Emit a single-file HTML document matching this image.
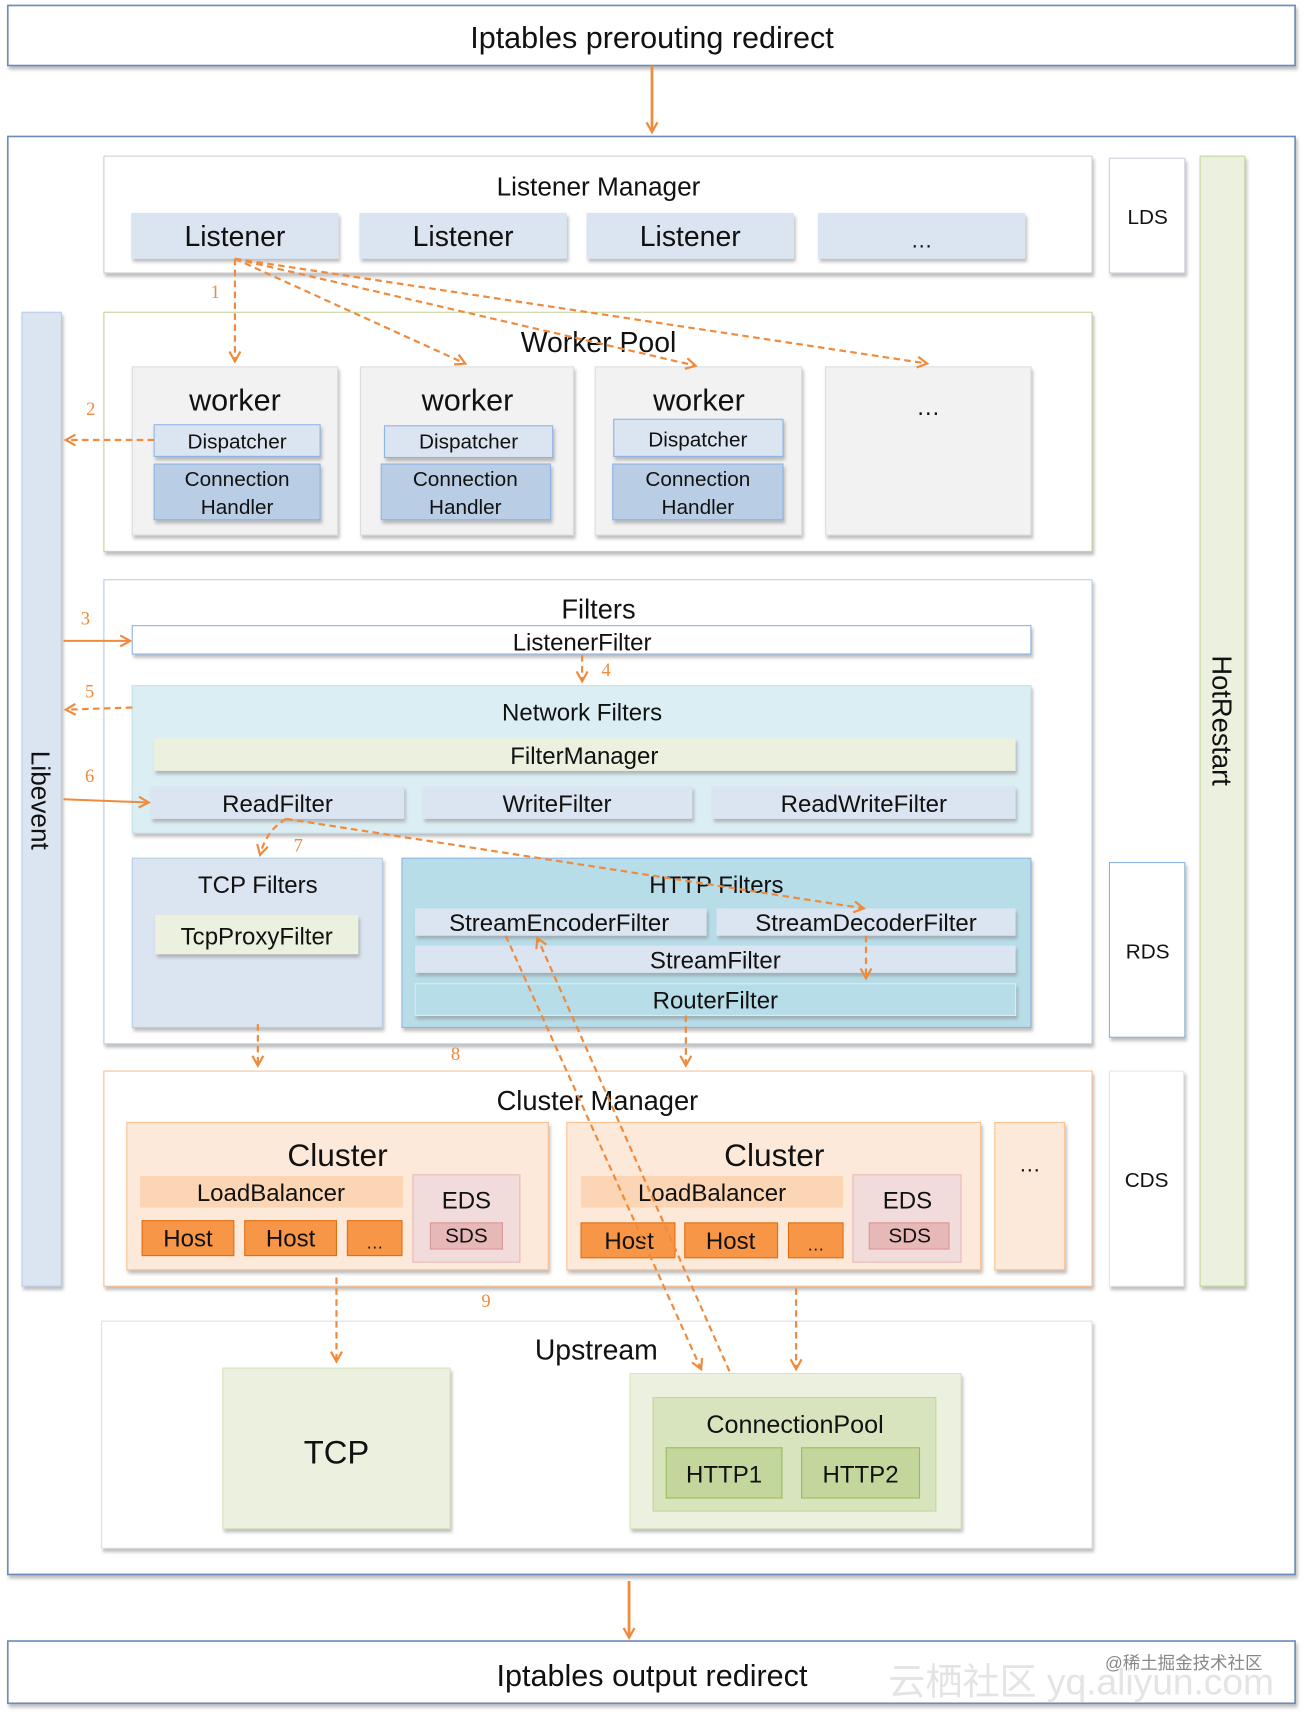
<!DOCTYPE html>
<html><head><meta charset="utf-8"><style>
html,body{margin:0;padding:0;background:#fff;}
svg text{font-family:"Liberation Sans","Noto Sans CJK SC",sans-serif;fill:#111;text-anchor:middle;dominant-baseline:central;}
.n{font-family:"Liberation Serif",serif !important;fill:#f08a3c !important;font-size:17px;}
</style></head><body>
<svg width="1304" height="1712" viewBox="0 0 1194 1568" xmlns="http://www.w3.org/2000/svg">
<defs>
<filter id="sh" x="-5%" y="-5%" width="110%" height="120%"><feDropShadow dx="1.5" dy="3" stdDeviation="1.5" flood-color="#888" flood-opacity="0.55"/></filter>
<marker id="ar" viewBox="0 0 12 12" refX="10" refY="6" markerWidth="12" markerHeight="12" markerUnits="userSpaceOnUse" orient="auto"><path d="M1,1 L10,6 L1,11" fill="none" stroke="#f08a3c" stroke-width="2"/></marker>
</defs>
<g filter="url(#sh)">
<rect x="7" y="5" width="1179" height="55" fill="#fff" stroke="#6b8cba" stroke-width="1.5"/>
<rect x="7" y="125" width="1179" height="1317" fill="#fff" stroke="#6b8cba" stroke-width="1.5"/>
<rect x="7" y="1503" width="1179" height="57" fill="#fff" stroke="#6b8cba" stroke-width="1.5"/>
</g>
<text x="597" y="35" font-size="28">Iptables  prerouting redirect</text>
<text x="597" y="1535" font-size="28">Iptables  output redirect</text>
<g filter="url(#sh)">
<rect x="95" y="143" width="905" height="107" fill="#fff" stroke="#d0d0d0"/>
<rect x="1016" y="145" width="69" height="105" fill="#fff" stroke="#d0d0e0"/>
<rect x="1099" y="143" width="41" height="1035" fill="#ebf1de" stroke="#c3d69b"/>
<rect x="20" y="286" width="36" height="892" fill="#dbe5f1" stroke="#b9cde5"/>
<rect x="95" y="286" width="905" height="219" fill="#fff" stroke="#c3d69b"/>
<rect x="95" y="531" width="905" height="425" fill="#fff" stroke="#b9cde5"/>
<rect x="1016" y="790" width="69" height="160" fill="#fff" stroke="#8eb4e3"/>
<rect x="95" y="981" width="905" height="197" fill="#fff" stroke="#fac090"/>
<rect x="1016" y="981" width="68" height="197" fill="#fff" stroke="#e6e6e6"/>
<rect x="93" y="1210" width="907" height="208" fill="#fff" stroke="#e0e0e0"/>
</g>
<text x="548" y="171" font-size="24">Listener Manager</text>
<text x="1051" y="199" font-size="19">LDS</text>
<text x="1051" y="872" font-size="19">RDS</text>
<text x="1050" y="1081" font-size="19">CDS</text>
<text x="1119" y="660" font-size="25" transform="rotate(90 1119 660)">HotRestart</text>
<text x="37" y="733" font-size="24" transform="rotate(90 37 733)">Libevent</text>
<g filter="url(#sh)" fill="#dbe5f1">
<rect x="120" y="195" width="190" height="42"/><rect x="329" y="195" width="190" height="42"/>
<rect x="537" y="195" width="190" height="42"/><rect x="749" y="195" width="190" height="42"/>
</g>
<g font-size="26"><text x="215" y="217">Listener</text><text x="424" y="217">Listener</text><text x="632" y="217">Listener</text><text x="844" y="220" font-size="20">…</text></g>
<text x="548" y="314" font-size="26">Worker Pool</text>
<g filter="url(#sh)" fill="#f2f2f2" stroke="#ddd">
<rect x="121" y="336" width="188" height="154"/><rect x="330" y="336" width="195" height="154"/>
<rect x="545" y="336" width="189" height="154"/><rect x="756" y="336" width="188" height="154"/>
</g>
<g filter="url(#sh)" stroke="#8eb4e3">
<rect x="141" y="389" width="152" height="29" fill="#dbe5f1"/><rect x="141" y="425" width="152" height="51" fill="#b9cde5"/>
<rect x="352" y="390" width="154" height="29" fill="#dbe5f1"/><rect x="349" y="425" width="155" height="51" fill="#b9cde5"/>
<rect x="562" y="384" width="155" height="34" fill="#dbe5f1"/><rect x="561" y="425" width="156" height="51" fill="#b9cde5"/>
</g>
<g font-size="28"><text x="215" y="367">worker</text><text x="428" y="367">worker</text><text x="640" y="367">worker</text><text x="850" y="373" font-size="22">…</text></g>
<g font-size="19">
<text x="217" y="405">Dispatcher</text><text x="429" y="405">Dispatcher</text><text x="639" y="403">Dispatcher</text>
<text x="217" y="439">Connection</text><text x="217" y="465">Handler</text>
<text x="426" y="439">Connection</text><text x="426" y="465">Handler</text>
<text x="639" y="439">Connection</text><text x="639" y="465">Handler</text>
</g>
<text x="548" y="558" font-size="25">Filters</text>
<g filter="url(#sh)">
<rect x="121" y="573" width="823" height="26" fill="#fff" stroke="#8eb4e3"/>
<rect x="121" y="628" width="823" height="135" fill="#daeef3" stroke="#c6e0e8"/>
<rect x="121" y="786" width="229" height="155" fill="#dbe5f1" stroke="#b9cde5"/>
<rect x="368" y="786" width="576" height="155" fill="#b7dde8" stroke="#8eb4e3"/>
</g>
<g filter="url(#sh)">
<rect x="141" y="676" width="789" height="30" fill="#ebf1de"/>
<rect x="138" y="720" width="232" height="30" fill="#dbe5f1"/><rect x="387" y="720" width="247" height="30" fill="#dbe5f1"/><rect x="652" y="720" width="278" height="30" fill="#dbe5f1"/>
<rect x="142" y="838" width="186" height="36" fill="#ebf1de"/>
<rect x="380" y="832" width="267" height="25" fill="#dbe5f1"/><rect x="656" y="832" width="274" height="25" fill="#dbe5f1"/>
<rect x="380" y="866" width="550" height="25" fill="#dbe5f1"/><rect x="380" y="901" width="550" height="29" fill="#b7dde8" stroke="#d8eef3"/>
</g>
<g font-size="22">
<text x="533" y="589">ListenerFilter</text><text x="533" y="653">Network Filters</text><text x="535" y="693">FilterManager</text>
<text x="254" y="737">ReadFilter</text><text x="510" y="737">WriteFilter</text><text x="791" y="737">ReadWriteFilter</text>
<text x="236" y="811">TCP Filters</text><text x="656" y="811">HTTP Filters</text><text x="235" y="858">TcpProxyFilter</text>
<text x="512" y="846">StreamEncoderFilter</text><text x="793" y="846">StreamDecoderFilter</text>
<text x="655" y="880">StreamFilter</text><text x="655" y="917">RouterFilter</text>
</g>
<text x="547" y="1008" font-size="25">Cluster Manager</text>
<g filter="url(#sh)">
<rect x="116" y="1028" width="386" height="135" fill="#fde9d9" stroke="#fac090"/>
<rect x="519" y="1028" width="379" height="135" fill="#fde9d9" stroke="#fac090"/>
<rect x="911" y="1028" width="64" height="135" fill="#fde9d9" stroke="#fac090"/>
<rect x="128" y="1077" width="241" height="29" fill="#fcd5b4"/><rect x="532" y="1077" width="240" height="29" fill="#fcd5b4"/>
<rect x="130" y="1118" width="84" height="32" fill="#f79646" stroke="#e36c09"/><rect x="224" y="1118" width="84" height="32" fill="#f79646" stroke="#e36c09"/><rect x="318" y="1118" width="50" height="32" fill="#f79646" stroke="#e36c09"/>
<rect x="532" y="1120" width="86" height="32" fill="#f79646" stroke="#e36c09"/><rect x="627" y="1120" width="85" height="32" fill="#f79646" stroke="#e36c09"/><rect x="722" y="1120" width="50" height="32" fill="#f79646" stroke="#e36c09"/>
<rect x="378" y="1076" width="98" height="80" fill="#f2dcdb" stroke="#e6b9b8"/><rect x="781" y="1076" width="99" height="80" fill="#f2dcdb" stroke="#e6b9b8"/>
<rect x="394" y="1120" width="66" height="24" fill="#e6b9b8" stroke="#d99594"/><rect x="796" y="1120" width="73" height="24" fill="#e6b9b8" stroke="#d99594"/>
</g>
<g font-size="29"><text x="309" y="1058">Cluster</text><text x="709" y="1058">Cluster</text></g>
<g font-size="22">
<text x="248" y="1093">LoadBalancer</text><text x="652" y="1093">LoadBalancer</text>
<text x="172" y="1135">Host</text><text x="266" y="1135">Host</text><text x="343" y="1138" font-size="16">…</text>
<text x="576" y="1137">Host</text><text x="669" y="1137">Host</text><text x="747" y="1140" font-size="16">…</text>
<text x="427" y="1100">EDS</text><text x="831" y="1100">EDS</text>
<text x="427" y="1132" font-size="19">SDS</text><text x="833" y="1132" font-size="19">SDS</text>
<text x="943" y="1066" font-size="20">…</text>
</g>
<text x="546" y="1237" font-size="26">Upstream</text>
<g filter="url(#sh)">
<rect x="204" y="1253" width="208" height="147" fill="#ebf1de" stroke="#d7e4bd"/>
<rect x="577" y="1258" width="303" height="142" fill="#ebf1de" stroke="#d7e4bd"/>
<rect x="598" y="1280" width="259" height="104" fill="#d7e4bd" stroke="#c3d69b"/>
<rect x="610" y="1326" width="106" height="46" fill="#c3d69b" stroke="#9bbb59"/><rect x="734" y="1326" width="108" height="46" fill="#c3d69b" stroke="#9bbb59"/>
</g>
<text x="308" y="1330" font-size="30">TCP</text>
<text x="728" y="1305" font-size="23">ConnectionPool</text>
<text x="663" y="1351" font-size="22">HTTP1</text><text x="788" y="1351" font-size="22">HTTP2</text>
<g stroke="#f08a3c" stroke-width="2.5" fill="none">
<line x1="597" y1="60" x2="597" y2="121" marker-end="url(#ar)"/>
<line x1="576" y1="1448" x2="576" y2="1500" marker-end="url(#ar)"/>
</g>
<g stroke="#f08a3c" stroke-width="1.8" fill="none">
<line x1="58" y1="587" x2="119" y2="587" marker-end="url(#ar)"/>
<line x1="58" y1="732" x2="136" y2="735" marker-end="url(#ar)"/>
</g>
<g stroke="#f08a3c" stroke-width="2" fill="none" stroke-dasharray="6,4">
<line x1="215" y1="237" x2="215" y2="331" marker-end="url(#ar)"/>
<line x1="215" y1="237" x2="426" y2="333" marker-end="url(#ar)"/>
<line x1="215" y1="237" x2="637" y2="335" marker-end="url(#ar)"/>
<line x1="215" y1="237" x2="849" y2="333" marker-end="url(#ar)"/>
<line x1="141" y1="403" x2="60" y2="403" marker-end="url(#ar)"/>
<line x1="533" y1="600" x2="533" y2="624" marker-end="url(#ar)"/>
<line x1="121" y1="648" x2="60" y2="650" marker-end="url(#ar)"/>
<path d="M262,750 Q244,760 238,783" marker-end="url(#ar)"/>
<line x1="262" y1="750" x2="791" y2="832" marker-end="url(#ar)"/>
<line x1="793" y1="857" x2="793" y2="896" marker-end="url(#ar)"/>
<line x1="236" y1="938" x2="236" y2="976" marker-end="url(#ar)"/>
<line x1="628" y1="930" x2="628" y2="976" marker-end="url(#ar)"/>
<line x1="308" y1="1170" x2="308" y2="1247" marker-end="url(#ar)"/>
<line x1="729" y1="1180" x2="729" y2="1254" marker-end="url(#ar)"/>
<line x1="463" y1="857" x2="642" y2="1254" marker-end="url(#ar)"/>
<line x1="668" y1="1256" x2="492" y2="859" marker-end="url(#ar)"/>
</g>
<text class="n" x="197" y="268">1</text><text class="n" x="83" y="375">2</text><text class="n" x="78" y="567">3</text>
<text class="n" x="555" y="614">4</text><text class="n" x="82" y="634">5</text><text class="n" x="82" y="711">6</text>
<text class="n" x="273" y="775">7</text><text class="n" x="417" y="966">8</text><text class="n" x="445" y="1192">9</text>
<text x="990" y="1540" font-size="34" style="fill:#e4e4e4">云栖社区 yq.aliyun.com</text>
<text x="1084" y="1523" font-size="16" style="fill:#888">@稀土掘金技术社区</text>
</svg>
</body></html>
